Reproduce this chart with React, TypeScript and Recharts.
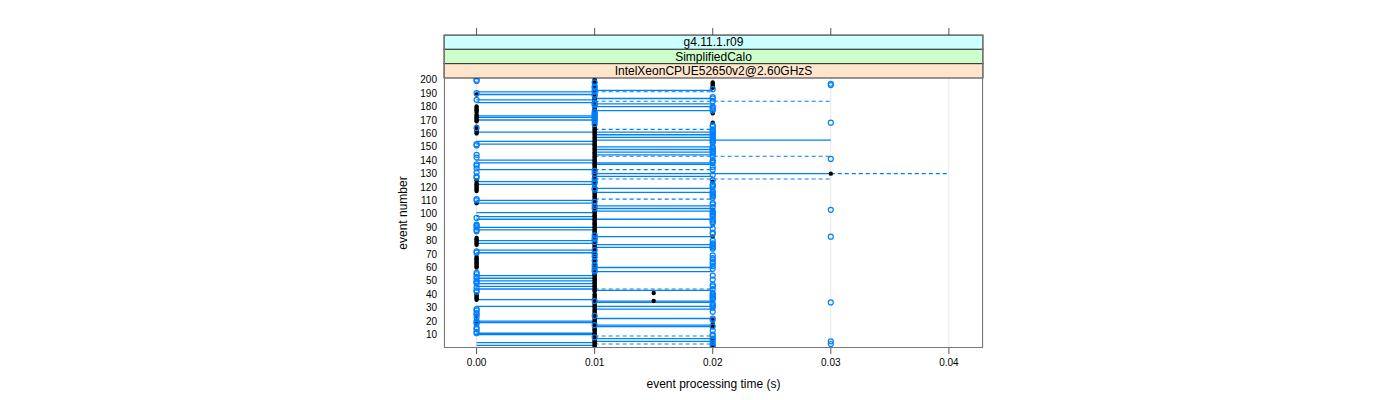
import React from 'react';
import { ScatterChart, Scatter, XAxis, YAxis, CartesianGrid, ReferenceLine, Label } from 'recharts';

const FONT = '"Liberation Sans", Arial, Helvetica, sans-serif';
const BLUE = '#0080ff';

// axis ticks and strip labels
const xTicks = [0, 0.01, 0.02, 0.03, 0.04];
const yTicks = [10, 20, 30, 40, 50, 60, 70, 80, 90, 100, 110, 120, 130, 140, 150, 160, 170, 180, 190, 200];
const stripLabels = ['g4.11.1.r09', 'SimplifiedCalo', 'IntelXeonCPUE52650v2@2.60GHzS'];
const stripColors = ['#ccffff', '#ccffcc', '#ffe5cc'];

// blue (open circle) processing time per event, events 1..200
const blueTime = [
  0.02, 0.02, 0.03, 0.02, 0.03, 0.02, 0.02, 0.01, 0.02, 0.02,
  0, 0, 0.02, 0, 0, 0.02, 0.01, 0, 0, 0,
  0.02, 0.02, 0, 0.01, 0, 0, 0.02, 0, 0, 0.02,
  0.02, 0.02, 0.02, 0.03, 0.01, 0.02, 0.02, 0.02, 0.02, 0.02,
  0.02, 0, 0, 0.02, 0, 0.02, 0.02, 0, 0, 0,
  0.02, 0, 0, 0.02, 0, 0, 0.01, 0.01, 0.02, 0.01,
  0.02, 0.01, 0.02, 0.02, 0.01, 0.02, 0.02, 0.01, 0.02, 0.01,
  0, 0, 0.01, 0.02, 0.02, 0.02, 0.02, 0.02, 0.01, 0.02,
  0.01, 0.01, 0.03, 0.01, 0.02, 0.02, 0, 0, 0.02, 0,
  0, 0, 0.02, 0.02, 0.02, 0.02, 0, 0.02, 0.02, 0.02,
  0.02, 0.02, 0.03, 0.01, 0.02, 0.01, 0.02, 0.02, 0.01, 0,
  0, 0.02, 0.02, 0.02, 0.02, 0.02, 0.02, 0.01, 0.01, 0.02,
  0.02, 0.02, 0.01, 0.01, 0.02, 0.01, 0, 0, 0.02, 0.01,
  0, 0.01, 0.02, 0, 0.02, 0, 0, 0.02, 0.02, 0.02,
  0.03, 0, 0.02, 0, 0.02, 0.02, 0.02, 0.02, 0.02, 0.02,
  0, 0, 0.02, 0.02, 0.02, 0.02, 0.02, 0.02, 0.02, 0.02,
  0.02, 0.02, 0.02, 0, 0.02, 0.02, 0.01, 0.03, 0.01, 0.01,
  0.01, 0.01, 0.01, 0.01, 0.01, 0.01, 0.02, 0.02, 0.02, 0.02,
  0.01, 0.01, 0.01, 0.02, 0, 0.02, 0.02, 0.01, 0.01, 0,
  0.01, 0.01, 0.02, 0.01, 0.01, 0.03, 0.03, 0.01, 0, 0,
];

// black (filled) processing time per event, events 1..200
const blackTime = [
  0.01, 0.01, 0.01, 0.01, 0.01, 0.01, 0.01, 0.01, 0.01, 0.01,
  0.01, 0.01, 0.01, 0.01, 0.01, 0.01, 0.01, 0.01, 0.01, 0.01,
  0.01, 0.01, 0.01, 0.01, 0.01, 0.01, 0.01, 0.01, 0.01, 0.01,
  0.01, 0.01, 0.01, 0.01, 0.015, 0.01, 0.01, 0.01, 0.01, 0.01,
  0.015, 0.01, 0.01, 0.01, 0.01, 0.01, 0.01, 0.01, 0.01, 0.01,
  0.01, 0.01, 0.01, 0.01, 0.01, 0.01, 0.01, 0.01, 0.01, 0.01,
  0.01, 0.01, 0.01, 0.01, 0.01, 0.01, 0.01, 0.01, 0.01, 0.01,
  0.01, 0.01, 0.01, 0.01, 0.01, 0.01, 0.01, 0.01, 0.01, 0.01,
  0.01, 0.01, 0.02, 0.01, 0.01, 0.01, 0.01, 0.01, 0.01, 0.01,
  0.01, 0.01, 0.01, 0.01, 0.01, 0.01, 0.01, 0.01, 0.01, 0.01,
  0.01, 0.01, 0.02, 0.01, 0.01, 0.01, 0.01, 0.01, 0.01, 0.01,
  0.01, 0.01, 0.01, 0.01, 0.01, 0.01, 0.01, 0.01, 0.01, 0.01,
  0.01, 0.01, 0.01, 0.02, 0.01, 0.01, 0.01, 0.01, 0.01, 0.03,
  0.01, 0.01, 0.01, 0.01, 0.01, 0.01, 0.01, 0.01, 0.01, 0.01,
  0.01, 0.01, 0.01, 0.01, 0.01, 0.01, 0.01, 0.01, 0.01, 0.01,
  0.01, 0.01, 0.01, 0.01, 0.01, 0.01, 0.01, 0.01, 0.01, 0.01,
  0.01, 0.01, 0.01, 0.01, 0.01, 0.01, 0.01, 0.01, 0.01, 0.01,
  0.01, 0.01, 0.01, 0.01, 0.01, 0.01, 0.01, 0.01, 0.01, 0.01,
  0.01, 0.01, 0.01, 0.01, 0.01, 0.01, 0.01, 0.01, 0.01, 0.01,
  0.01, 0.01, 0.01, 0.01, 0.01, 0.01, 0.01, 0.01, 0.01, 0.01,
];

// additional black points off the main column
const blackExtraEvent = [
  19, 24, 36, 37, 38, 39, 40, 60, 61, 62, 63, 64, 65, 66, 67, 68, 77, 78, 79, 80, 81, 82,
  108, 117, 118, 119, 120, 121, 122, 123, 125, 160, 161, 162, 163, 165, 169, 170, 171, 172,
  173, 174, 176, 177, 178, 179, 180, 189,
  1, 2, 3, 5, 7, 16, 18, 21, 168, 175, 194, 195, 196, 197, 198,
];
const blackExtraTime = [
  0, 0, 0, 0, 0, 0, 0, 0, 0, 0, 0, 0, 0, 0, 0, 0, 0, 0, 0, 0, 0, 0,
  0, 0, 0, 0, 0, 0, 0, 0, 0, 0, 0, 0, 0, 0, 0, 0, 0, 0,
  0, 0, 0, 0, 0, 0, 0, 0,
  0.02, 0.02, 0.02, 0.02, 0.02, 0.02, 0.02, 0.02, 0.02, 0.02, 0.02, 0.02, 0.02, 0.02, 0.02,
];

// solid connector segments: event, from time, to time
const solidEvent = [
  191, 189, 185, 183, 173, 172, 170, 161, 154, 152, 140, 138, 133, 124, 122, 110, 108, 101, 98, 96,
  90, 88, 80, 78, 73, 71, 54, 52, 50, 48, 46, 44, 36, 31, 20, 19, 11, 10, 4, 2,
  192, 186, 182, 180, 177, 161, 159, 157, 150, 148, 146, 144, 138, 137, 128, 119, 116, 106, 104, 102,
  96, 90, 83, 77, 75, 60, 57, 43, 35, 34, 31, 29, 22, 17, 16, 7, 5,
  155, 130,
];
const solidFrom = [
  0, 0, 0, 0, 0, 0, 0, 0, 0, 0, 0, 0, 0, 0, 0, 0, 0, 0, 0, 0,
  0, 0, 0, 0, 0, 0, 0, 0, 0, 0, 0, 0, 0, 0, 0, 0, 0, 0, 0, 0,
  0.01, 0.01, 0.01, 0.01, 0.01, 0.01, 0.01, 0.01, 0.01, 0.01, 0.01, 0.01, 0.01, 0.01, 0.01, 0.01, 0.01, 0.01, 0.01, 0.01,
  0.01, 0.01, 0.01, 0.01, 0.01, 0.01, 0.01, 0.01, 0.01, 0.01, 0.01, 0.01, 0.01, 0.01, 0.01, 0.01, 0.01,
  0.01, 0.01,
];
const solidTo = [
  0.01, 0.01, 0.01, 0.01, 0.01, 0.01, 0.01, 0.01, 0.01, 0.01, 0.01, 0.01, 0.01, 0.01, 0.01, 0.01, 0.01, 0.01, 0.01, 0.01,
  0.01, 0.01, 0.01, 0.01, 0.01, 0.01, 0.01, 0.01, 0.01, 0.01, 0.01, 0.01, 0.01, 0.01, 0.01, 0.01, 0.01, 0.01, 0.01, 0.01,
  0.02, 0.02, 0.02, 0.02, 0.02, 0.02, 0.02, 0.02, 0.02, 0.02, 0.02, 0.02, 0.02, 0.02, 0.02, 0.02, 0.02, 0.02, 0.02, 0.02,
  0.02, 0.02, 0.02, 0.02, 0.02, 0.02, 0.02, 0.02, 0.02, 0.02, 0.02, 0.02, 0.02, 0.02, 0.02, 0.02, 0.02,
  0.03, 0.03,
];

// dashed connector segments
const dashedEvent = [191, 163, 133, 111, 44, 9, 3, 184, 143, 126, 130];
const dashedFrom = [0.01, 0.01, 0.01, 0.01, 0.01, 0.01, 0.01, 0.01, 0.01, 0.01, 0.03];
const dashedTo = [0.02, 0.02, 0.02, 0.02, 0.02, 0.02, 0.02, 0.03, 0.03, 0.03, 0.04];

const bluePoints = blueTime.map((t, i) => ({ x: t, y: i + 1 }));
const blackPoints = [
  ...blackTime.map((t, i) => ({ x: t, y: i + 1 })),
  ...blackExtraEvent.map((e, i) => ({ x: blackExtraTime[i], y: e })),
];

const X_DOMAIN: [number, number] = [-0.00276, 0.04289];
const Y_DOMAIN: [number, number] = [0, 201.3];

const OpenCircle = (p: any) => (
  <circle cx={p.cx} cy={p.cy} r={2.5} fill="none" stroke={BLUE} strokeWidth={1.2} />
);
const FilledDot = (p: any) => <circle cx={p.cx} cy={p.cy} r={2.2} fill="#000" />;
const NoShape = () => <g />;
const TopTick = (p: any) => (
  <line x1={p.x} x2={p.x} y1={p.y} y2={p.y + 7} stroke="#555" strokeWidth={1} />
);

const PANEL = { left: 444, right: 983, top: 35, plotTop: 78, bottom: 348 };

export default function App() {
  const stripH = (PANEL.plotTop - PANEL.top) / 3;
  const cx = (PANEL.left + PANEL.right) / 2;
  return (
    <div style={{ position: 'absolute', left: 0, top: 0, width: 1400, height: 400, background: '#fff' }}>
      <ScatterChart
        width={1400}
        height={400}
        margin={{ top: 35, right: 417, bottom: 22, left: 404 }}
        style={{ fontFamily: FONT }}
      >
        <CartesianGrid horizontal={false} stroke="#e6e6e6" />
        <XAxis
          xAxisId="top"
          orientation="top"
          dataKey="x"
          type="number"
          domain={X_DOMAIN}
          ticks={xTicks}
          interval={0}
          allowDataOverflow
          height={43}
          axisLine={false}
          tickLine={false}
          tickSize={43}
          tickMargin={7}
          tick={TopTick}
        />
        <XAxis
          dataKey="x"
          type="number"
          domain={X_DOMAIN}
          ticks={xTicks}
          interval={0}
          allowDataOverflow
          height={30}
          axisLine={false}
          tickLine={{ stroke: '#555' }}
          tickSize={6}
          tickMargin={5}
          tickFormatter={(v: number) => v.toFixed(2)}
          tick={{ fontSize: 10, fill: '#000', fontFamily: FONT }}
        >
          <Label value="event processing time (s)" position="bottom" offset={1} style={{ fontSize: 12, fill: '#000', fontFamily: FONT }} />
        </XAxis>
        <YAxis
          dataKey="y"
          type="number"
          domain={Y_DOMAIN}
          ticks={yTicks}
          interval={0}
          allowDataOverflow
          width={40}
          axisLine={false}
          tickLine={false}
          tickSize={0}
          tickMargin={7}
          tick={{ fontSize: 10, fill: '#000', fontFamily: FONT }}
        >
          <Label value="event number" angle={-90} position="insideLeft" offset={-1} style={{ fontSize: 12, fill: '#000', fontFamily: FONT, textAnchor: 'middle' }} />
        </YAxis>
        {solidEvent.map((e, i) => (
          <ReferenceLine
            key={'s' + i}
            segment={[{ x: solidFrom[i], y: e }, { x: solidTo[i], y: e }]}
            stroke={BLUE}
            strokeWidth={1.3}
          />
        ))}
        {dashedEvent.map((e, i) => (
          <ReferenceLine
            key={'d' + i}
            segment={[{ x: dashedFrom[i], y: e }, { x: dashedTo[i], y: e }]}
            stroke={BLUE}
            strokeWidth={1.1}
            strokeDasharray="4 3"
          />
        ))}
        <Scatter xAxisId="top" data={bluePoints} shape={NoShape} isAnimationActive={false} legendType="none" />
        <Scatter data={blackPoints} shape={FilledDot} isAnimationActive={false} />
        <Scatter data={bluePoints} shape={OpenCircle} isAnimationActive={false} />
      </ScatterChart>
      <svg
        width={1400}
        height={400}
        style={{ position: 'absolute', left: 0, top: 0, pointerEvents: 'none' }}
      >
        {stripLabels.map((s, i) => (
          <g key={s}>
            <rect
              x={PANEL.left}
              y={PANEL.top + i * stripH}
              width={PANEL.right - PANEL.left}
              height={stripH}
              fill={stripColors[i]}
              stroke="#333"
              strokeWidth={1}
            />
            <text
              x={cx}
              y={PANEL.top + i * stripH + stripH / 2 + 4.2}
              textAnchor="middle"
              fontSize={12}
              fontFamily={FONT}
              fill="#000"
            >
              {s}
            </text>
          </g>
        ))}
        <rect
          x={PANEL.left + 0.5}
          y={PANEL.top + 0.5}
          width={PANEL.right - PANEL.left - 1}
          height={PANEL.bottom - PANEL.top - 1}
          fill="none"
          stroke="#777"
          strokeWidth={1}
        />
      </svg>
    </div>
  );
}
